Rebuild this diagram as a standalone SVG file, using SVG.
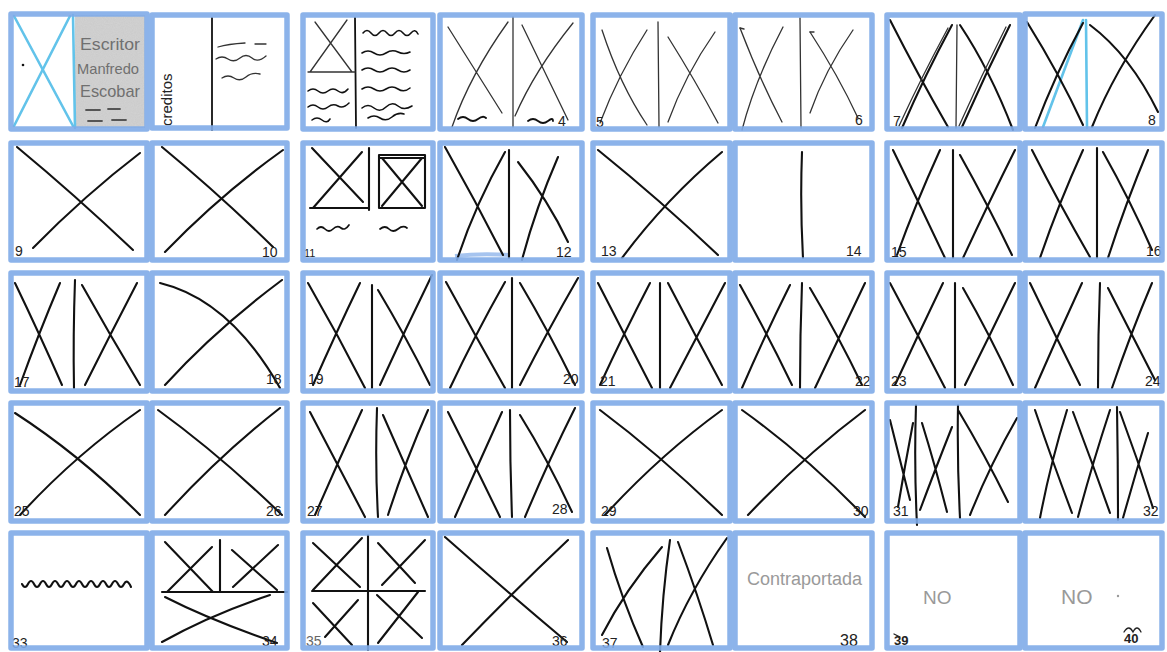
<svg xmlns="http://www.w3.org/2000/svg" width="1167" height="652" viewBox="0 0 1167 652">
<defs>
<style>
.frame{fill:none;stroke:#80abe8;stroke-width:5.5;stroke-linejoin:round;opacity:0.9}
.ink{fill:none;stroke:#111;stroke-width:2.1;stroke-linecap:round;stroke-linejoin:round}
.pen{fill:none;stroke:#333;stroke-width:1.3;stroke-linecap:round}
.cyan{fill:none;stroke:#62c3ea;stroke-width:2.6;stroke-linecap:round}
.num{font-family:"Liberation Sans",sans-serif;font-size:14px;fill:#222}
.gray{font-family:"Liberation Sans",sans-serif;fill:#8a8a8a}
</style>
<filter id="grain" x="0" y="0" width="1" height="1">
<feTurbulence type="fractalNoise" baseFrequency="0.9" numOctaves="2" seed="3" result="n"/>
<feColorMatrix in="n" type="matrix" values="0 0 0 0 0.55  0 0 0 0 0.55  0 0 0 0 0.55  0 0 0 -1.2 1.1" result="g"/>
<feComposite in="g" in2="SourceGraphic" operator="in"/>
</filter>
</defs>
<rect width="1167" height="652" fill="#ffffff"/>

<!-- Row 1 -->
<g id="page-1">
<rect x="75" y="15" width="70" height="113" fill="#d2d2d2"/>
<rect x="75" y="15" width="70" height="113" fill="#999" filter="url(#grain)" opacity="0.5"/>
<line class="cyan" x1="14" y1="16" x2="73" y2="126"/>
<line class="cyan" x1="70" y1="16" x2="14" y2="126"/>
<line class="cyan" x1="73" y1="15" x2="75" y2="128"/>
<circle cx="23" cy="65" r="1.3" fill="#111"/>
<text class="gray" x="80" y="50" font-size="16" textLength="60" lengthAdjust="spacingAndGlyphs" style="fill:#707070">Escritor</text>
<text class="gray" x="77" y="74" font-size="15" textLength="62" lengthAdjust="spacingAndGlyphs" style="fill:#707070">Manfredo</text>
<text class="gray" x="80" y="97" font-size="17" textLength="60" lengthAdjust="spacingAndGlyphs" style="fill:#707070">Escobar</text>
<path class="pen" d="M86,110 h14 M108,109 h12 M88,121 h14 M112,120 h14" style="stroke:#555;stroke-width:1.8"/>
<rect class="frame" x="11" y="14" width="136" height="115"/>
</g>
<g id="page-2">
<text x="172" y="126" transform="rotate(-90 172 126)" font-family="Liberation Sans, sans-serif" font-size="15" fill="#222">creditos</text>
<line class="ink" x1="212" y1="18" x2="212" y2="130" style="stroke-width:1.8"/>
<path class="pen" d="M218,47 q10,-3 27,-4 M255,44 h11 M216,59 q6,-4 12,0 t12,-1 t12,0 t14,-2 M222,78 q6,-4 12,0 t12,-1 t14,-3"/>
<rect class="frame" x="152" y="15" width="135" height="113"/>
</g>
<g id="page-3">
<line class="ink" x1="355" y1="18" x2="356" y2="128" style="stroke-width:1.8"/>
<path class="pen" d="M315,22 L352,72 M347,20 L310,72 M308,72 H355"/>
<path class="ink" style="stroke-width:1.6" d="M308,91 q5,-4 10,0 t10,0 t10,0 t10,-2 M308,107 q5,-4 10,0 t10,0 t10,-1 t11,-3 M312,120 q5,-4 10,0 t8,-1"/>
<path class="ink" style="stroke-width:1.6" d="M363,33 q4,-5 8,0 t8,0 t8,0 t8,0 t8,0 t8,0 t7,1 M362,53 q6,-4 12,0 t12,0 t12,-1 t12,0 M362,70 q6,-4 12,0 t12,0 t12,0 t12,0 M362,89 q6,-4 12,0 t12,0 t12,0 t12,-1 M362,108 q6,-5 12,0 t12,-1 t12,-1 t14,0 M368,118 q6,-4 12,0 t12,-1 t12,-3"/>
<rect class="frame" x="303" y="15" width="130" height="114"/>
</g>
<g id="page-4">
<line class="pen" x1="513" y1="17" x2="513" y2="127"/>
<path class="pen" d="M448,27 L502,113 M508,22 Q470,75 452,127 M522,25 L568,120 M573,23 Q535,70 515,116"/>
<path class="ink" style="stroke-width:1.8" d="M458,119 q5,-4 10,0 t10,0 t8,-1 M528,121 q5,-4 10,0 t10,0 t5,0"/>
<text class="num" x="558" y="126">4</text>
<rect class="frame" x="440" y="15" width="142" height="114"/>
</g>
<g id="page-5">
<line class="pen" x1="658" y1="22" x2="659" y2="127"/>
<path class="pen" d="M602,30 Q620,85 647,125 M647,30 Q618,75 600,123 M668,37 Q695,80 718,123 M715,32 Q685,75 668,122"/>
<text class="num" x="596" y="127">5</text>
<rect class="frame" x="593" y="15" width="137" height="114"/>
</g>
<g id="page-6">
<line class="pen" x1="800" y1="18" x2="801" y2="128"/>
<path class="pen" d="M740,28 Q760,80 782,122 M783,27 Q755,80 742,130 M810,32 Q838,75 858,118 M853,30 Q825,70 810,113"/>
<path class="pen" d="M740,28 l4,1 M810,32 l4,0"/>
<text class="num" x="855" y="125">6</text>
<rect class="frame" x="735" y="15" width="137" height="114"/>
</g>
<g id="page-7">
<line class="pen" x1="957" y1="25" x2="956" y2="128"/>
<path class="ink" d="M890,20 Q918,75 948,127 M952,25 Q925,75 902,128 M960,25 Q990,70 1013,130 M1010,25 Q985,75 962,127"/>
<path class="pen" d="M948,28 Q922,76 899,126 M1006,27 Q981,76 959,126"/>
<text class="num" x="893" y="126">7</text>
<rect class="frame" x="887" y="15" width="133" height="114"/>
</g>
<g id="page-8">
<line class="cyan" x1="1083" y1="20" x2="1043" y2="127"/>
<line class="cyan" x1="1086" y1="20" x2="1087" y2="128"/>
<path class="ink" d="M1027,22 Q1060,75 1083,125 M1083,23 Q1055,75 1035,128 M1090,25 Q1130,55 1158,112 M1155,15 Q1115,70 1092,127"/>
<text class="num" x="1148" y="125">8</text>
<rect class="frame" x="1025" y="14" width="137" height="115"/>
</g>

<!-- Row 2 -->
<g id="page-9">
<path class="ink" d="M17,147 Q75,195 133,250 M140,153 Q85,195 33,248"/>
<text class="num" x="15" y="256">9</text>
<rect class="frame" x="11" y="143" width="136" height="117"/>
</g>
<g id="page-10">
<path class="ink" d="M162,147 Q220,195 273,247 M283,150 Q220,195 165,252"/>
<text class="num" x="262" y="257">10</text>
<rect class="frame" x="152" y="143" width="135" height="117"/>
</g>
<g id="page-11">
<path class="ink" d="M312,148 L363,202 M362,152 L313,208 M369,148 V210 M310,208 H369"/>
<path class="ink" d="M379,155 H425 M379,158 H425 M379,155 V208 M425,155 V208 M379,208 H425 M382,158 L422,206 M422,158 L382,206"/>
<path class="ink" style="stroke-width:1.7" d="M317,229 q4,-4 8,0 t8,0 t8,-1 t8,-3 M380,229 q5,-4 9,0 t9,0 t9,-1"/>
<text class="num" x="304" y="257" style="font-size:11px">11</text>
<rect class="frame" x="303" y="143" width="130" height="117"/>
</g>
<g id="page-12">
<path d="M455,256 Q480,253 510,255" fill="none" stroke="#80abe8" stroke-width="4" opacity="0.7"/>
<path class="ink" d="M509,150 V258 M445,147 Q475,200 503,255 M505,152 Q475,205 457,260 M518,162 Q548,200 568,242 M558,157 Q535,210 522,260"/>
<text class="num" x="556" y="257">12</text>
<rect class="frame" x="440" y="143" width="142" height="117"/>
</g>
<g id="page-13">
<path class="ink" d="M598,150 Q660,200 718,255 M722,152 Q665,200 622,258"/>
<text class="num" x="601" y="256">13</text>
<rect class="frame" x="593" y="143" width="137" height="117"/>
</g>
<g id="page-14">
<path class="ink" d="M802,152 Q800,205 803,258"/>
<text class="num" x="846" y="256">14</text>
<rect class="frame" x="735" y="143" width="137" height="117"/>
</g>
<g id="page-15">
<path class="ink" d="M893,150 Q920,205 945,258 M940,150 Q915,205 897,255 M953,150 V258 M960,155 Q988,205 1012,255 M1015,150 Q990,200 963,258"/>
<text class="num" x="891" y="257">15</text>
<rect class="frame" x="887" y="143" width="133" height="117"/>
</g>
<g id="page-16">
<path class="ink" d="M1032,150 Q1060,205 1090,257 M1083,150 Q1058,205 1040,258 M1097,148 V258 M1103,152 Q1130,200 1152,250 M1148,150 Q1125,205 1108,258"/>
<text class="num" x="1146" y="256">16</text>
<rect class="frame" x="1025" y="143" width="137" height="117"/>
</g>

<!-- Row 3 -->
<g id="page-17">
<path class="ink" d="M15,283 Q40,335 62,385 M60,283 Q38,335 20,385 M75,280 Q73,335 74,388 M82,285 Q110,335 140,385 M137,283 Q110,335 85,385"/>
<text class="num" x="14" y="387">17</text>
<rect class="frame" x="11" y="273" width="136" height="118"/>
</g>
<g id="page-18">
<path class="ink" d="M160,283 Q230,300 280,388 M282,280 Q215,330 165,385"/>
<text class="num" x="266" y="384">18</text>
<rect class="frame" x="152" y="273" width="135" height="118"/>
</g>
<g id="page-19">
<path class="ink" d="M308,283 Q338,335 365,388 M360,283 Q335,335 313,385 M372,285 V388 M378,290 Q405,335 430,385 M432,275 Q405,330 380,385"/>
<text class="num" x="308" y="384">19</text>
<rect class="frame" x="303" y="273" width="130" height="118"/>
</g>
<g id="page-20">
<path class="ink" d="M446,282 Q475,335 505,388 M505,282 Q475,335 450,388 M512,278 V388 M520,283 Q548,330 575,385 M578,278 Q548,330 520,385"/>
<text class="num" x="563" y="384">20</text>
<rect class="frame" x="440" y="273" width="142" height="118"/>
</g>
<g id="page-21">
<path class="ink" d="M598,283 Q625,335 652,388 M650,283 Q623,335 600,385 M660,283 V388 M668,283 Q695,335 722,385 M725,283 Q698,335 670,388"/>
<text class="num" x="600" y="386">21</text>
<rect class="frame" x="593" y="273" width="137" height="118"/>
</g>
<g id="page-22">
<path class="ink" d="M740,285 Q768,335 792,385 M790,285 Q765,335 742,388 M802,283 Q800,335 800,388 M810,288 Q838,335 862,385 M865,283 Q840,335 815,388"/>
<text class="num" x="855" y="386">22</text>
<rect class="frame" x="735" y="273" width="137" height="118"/>
</g>
<g id="page-23">
<path class="ink" d="M890,283 Q918,335 945,388 M943,283 Q918,335 895,385 M955,283 V388 M963,288 Q990,335 1013,385 M1015,283 Q990,335 965,385"/>
<text class="num" x="891" y="386">23</text>
<rect class="frame" x="887" y="273" width="133" height="118"/>
</g>
<g id="page-24">
<path class="ink" d="M1030,283 Q1055,335 1080,385 M1082,283 Q1058,335 1035,388 M1100,283 Q1098,335 1098,388 M1108,288 Q1132,335 1155,380 M1152,283 Q1130,335 1112,388"/>
<text class="num" x="1145" y="386">24</text>
<rect class="frame" x="1025" y="273" width="137" height="118"/>
</g>

<!-- Row 4 -->
<g id="page-25">
<path class="ink" d="M15,413 Q80,455 140,515 M140,410 Q75,455 20,515"/>
<text class="num" x="14" y="516">25</text>
<rect class="frame" x="11" y="403" width="136" height="118"/>
</g>
<g id="page-26">
<path class="ink" d="M158,410 Q220,455 282,515 M280,408 Q220,455 165,515"/>
<text class="num" x="266" y="516">26</text>
<rect class="frame" x="152" y="403" width="135" height="118"/>
</g>
<g id="page-27">
<path class="ink" d="M310,412 Q338,465 365,517 M362,410 Q338,462 315,515 M377,408 Q375,465 378,517 M383,415 Q405,465 428,517 M428,410 Q405,462 388,515"/>
<text class="num" x="307" y="516">27</text>
<rect class="frame" x="303" y="403" width="130" height="118"/>
</g>
<g id="page-28">
<path class="ink" d="M448,412 Q475,465 500,517 M502,412 Q478,465 455,517 M510,410 Q510,465 512,517 M520,415 Q548,460 572,512 M575,408 Q548,462 525,517"/>
<text class="num" x="552" y="514">28</text>
<rect class="frame" x="440" y="403" width="142" height="118"/>
</g>
<g id="page-29">
<path class="ink" d="M600,410 Q660,455 722,515 M722,410 Q660,455 605,515"/>
<text class="num" x="601" y="516">29</text>
<rect class="frame" x="593" y="403" width="137" height="118"/>
</g>
<g id="page-30">
<path class="ink" d="M742,410 Q805,455 865,517 M865,410 Q805,455 748,515"/>
<text class="num" x="853" y="516">30</text>
<rect class="frame" x="735" y="403" width="137" height="118"/>
</g>
<g id="page-31">
<path class="ink" d="M916,405 Q914,465 917,525 M958,405 Q957,460 960,518 M890,420 Q900,460 910,500 M913,423 Q905,465 898,507 M922,423 Q935,465 947,512 M952,427 Q935,470 920,510 M958,410 Q985,455 1008,502 M1017,418 Q990,465 970,515"/>
<text class="num" x="893" y="516">31</text>
<rect class="frame" x="887" y="403" width="133" height="118"/>
</g>
<g id="page-32">
<path class="ink" d="M1035,410 Q1052,460 1072,513 M1067,410 Q1050,465 1040,518 M1073,412 Q1092,462 1110,513 M1110,410 Q1092,465 1078,517 M1117,407 Q1118,465 1118,520 M1120,412 Q1138,460 1153,508 M1148,433 Q1135,475 1123,518"/>
<text class="num" x="1143" y="516">32</text>
<rect class="frame" x="1025" y="403" width="137" height="118"/>
</g>

<!-- Row 5 -->
<g id="page-33">
<path class="ink" d="M22,584 q3,6 6,0 t6,0 t6,0 t6,0 t6,0 t6,0 t6,0 t6,0 t6,0 t6,0 t6,0 t6,0 t6,0 t6,0 t6,0 t6,0 t6,0 t7,3"/>
<text class="num" x="12" y="648">33</text>
<rect class="frame" x="11" y="533" width="136" height="115"/>
</g>
<g id="page-34">
<path class="ink" d="M220,540 V592 M162,592 H287 M165,542 L213,592 M212,547 L167,592 M232,550 L277,590 M278,545 L233,587 M165,597 Q210,620 277,643 M270,595 Q210,615 162,642"/>
<text class="num" x="262" y="646">34</text>
<rect class="frame" x="152" y="533" width="135" height="115"/>
</g>
<g id="page-35">
<path class="ink" d="M368,535 V650 M312,591 H425 M313,543 L360,587 M362,538 L313,590 M378,543 L415,583 M425,540 L382,585 M313,603 L352,645 M358,600 L325,637 M377,595 L422,638 M418,592 L378,643"/>
<text class="num" x="306" y="646" style="fill:#666">35</text>
<rect class="frame" x="303" y="533" width="130" height="115"/>
</g>
<g id="page-36">
<path class="ink" d="M445,537 Q505,590 567,642 M568,540 Q515,590 462,645"/>
<text class="num" x="552" y="646">36</text>
<rect class="frame" x="440" y="533" width="142" height="115"/>
</g>
<g id="page-37">
<path class="ink" d="M607,548 Q622,600 643,647 M662,547 Q625,590 602,635 M670,540 Q662,595 660,652 M678,542 Q698,595 713,645 M727,538 Q690,590 668,645"/>
<text class="num" x="602" y="648">37</text>
<rect class="frame" x="593" y="533" width="137" height="115"/>
</g>
<g id="page-38">
<text class="gray" x="747" y="585" font-size="18" style="fill:#9a9a9a">Contraportada</text>
<text class="num" x="840" y="646" style="font-size:16px">38</text>
<rect class="frame" x="735" y="533" width="137" height="115"/>
</g>
<g id="page-39">
<text class="gray" x="923" y="604" font-size="19" style="fill:#999">NO</text>
<text class="num" x="894" y="645" style="font-weight:bold;font-size:13px">39</text>
<path class="pen" d="M894,634 l6,3" style="stroke:#222"/>
<rect class="frame" x="887" y="533" width="133" height="115"/>
</g>
<g id="page-40">
<text class="gray" x="1061" y="604" font-size="21" style="fill:#999">NO</text>
<circle cx="1118" cy="596" r="1.2" fill="#999"/>
<text class="num" x="1124" y="643" style="font-weight:bold;font-size:13px">40</text>
<path class="pen" d="M1124,632 q5,-8 9,0 q4,-8 8,0" style="stroke:#222"/>
<rect class="frame" x="1025" y="533" width="137" height="115"/>
</g>
</svg>
